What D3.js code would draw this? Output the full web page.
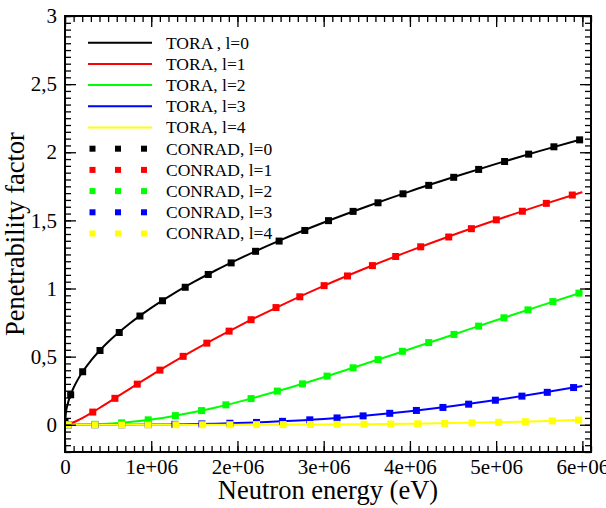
<!DOCTYPE html>
<html>
<head>
  <meta charset="UTF-8">
  <script src="https://cdn.jsdelivr.net/npm/d3@7"></script>
</head>
<body style="margin:0">
<svg id="chart" width="606" height="508"></svg>
<script>
  // TORA curves (energy in eV, penetrability)
  var toraE = [0, 0.01e6, 0.03e6, 0.06e6, 0.1e6, 0.15e6, 0.2e6, 0.3e6, 0.4e6, 0.5e6, 0.75e6, 1e6, 1.25e6,
    1.5e6, 1.75e6, 2e6, 2.5e6, 3e6, 3.5e6, 4e6, 4.5e6, 5e6, 5.5e6, 6e6];
  var tora0 = [0, 0.086, 0.149, 0.211, 0.272, 0.333, 0.385, 0.470, 0.543, 0.607, 0.743, 0.858, 0.959,
    1.050, 1.134, 1.212, 1.355, 1.484, 1.602, 1.713, 1.816, 1.915, 2.008, 2.097];
  var tora1 = [0, 0.001, 0.003, 0.009, 0.018, 0.033, 0.049, 0.085, 0.123, 0.163, 0.263, 0.362, 0.457,
    0.549, 0.636, 0.719, 0.875, 1.019, 1.152, 1.276, 1.393, 1.503, 1.608, 1.707];
  var tora2 = [0, 0, 0, 0, 0, 0.001, 0.001, 0.002, 0.005, 0.008, 0.020, 0.039, 0.063,
    0.093, 0.127, 0.166, 0.253, 0.349, 0.451, 0.556, 0.661, 0.767, 0.871, 0.973];
  var tora3 = [0, 0, 0, 0, 0, 0, 0, 0, 0, 0, 0, 0.001, 0.003,
    0.005, 0.008, 0.012, 0.025, 0.043, 0.068, 0.099, 0.137, 0.181, 0.231, 0.285];
  var tora4 = [0, 0, 0, 0, 0, 0, 0, 0, 0, 0, 0, 0, 0,
    0, 0, 0, 0.001, 0.002, 0.004, 0.007, 0.012, 0.018, 0.026, 0.036];

  // CONRAD points [energy eV, penetrability]
  var conrad0 = [[0, 0.02], [0.066e6, 0.220], [0.205e6, 0.389], [0.406e6, 0.545], [0.629e6, 0.677],
    [0.869e6, 0.798], [1.131e6, 0.910], [1.394e6, 1.009], [1.661e6, 1.103], [1.927e6, 1.188],
    [2.210e6, 1.273], [2.483e6, 1.348], [2.781e6, 1.426], [3.056e6, 1.498], [3.341e6, 1.566],
    [3.630e6, 1.629], [3.920e6, 1.695], [4.218e6, 1.757], [4.508e6, 1.816], [4.797e6, 1.874],
    [5.098e6, 1.932], [5.377e6, 1.986], [5.670e6, 2.040], [5.968e6, 2.091]];
  var conrad1 = [[0.038e6, 0.001], [0.322e6, 0.093], [0.579e6, 0.194], [0.838e6, 0.298], [1.101e6, 0.401],
    [1.370e6, 0.502], [1.645e6, 0.599], [1.903e6, 0.687], [2.158e6, 0.771], [2.447e6, 0.860],
    [2.723e6, 0.939], [3.005e6, 1.021], [3.276e6, 1.092], [3.565e6, 1.168], [3.835e6, 1.235],
    [4.125e6, 1.306], [4.450e6, 1.378], [4.713e6, 1.439], [5.002e6, 1.504], [5.304e6, 1.567],
    [5.582e6, 1.625], [5.883e6, 1.686]];
  var conrad2 = [[0.038e6, 0], [0.348e6, 0.003], [0.657e6, 0.014], [0.965e6, 0.036], [1.280e6, 0.067],
    [1.584e6, 0.104], [1.866e6, 0.146], [2.158e6, 0.192], [2.462e6, 0.247], [2.754e6, 0.300],
    [3.039e6, 0.357], [3.341e6, 0.418], [3.630e6, 0.478], [3.913e6, 0.539], [4.218e6, 0.603],
    [4.511e6, 0.663], [4.797e6, 0.724], [5.090e6, 0.785], [5.369e6, 0.843], [5.658e6, 0.904],
    [5.960e6, 0.966]];
  var conrad3 = [[0.038e6, 0], [0.348e6, 0], [0.657e6, 0], [0.965e6, 0.001], [1.275e6, 0.003],
    [1.588e6, 0.006], [1.912e6, 0.011], [2.221e6, 0.017], [2.523e6, 0.025], [2.839e6, 0.036],
    [3.155e6, 0.050], [3.457e6, 0.065], [3.766e6, 0.084], [4.075e6, 0.105], [4.383e6, 0.127],
    [4.681e6, 0.151], [4.991e6, 0.180], [5.299e6, 0.210], [5.593e6, 0.238], [5.898e6, 0.273]];
  var conrad4 = [[0.038e6, 0], [0.348e6, 0], [0.657e6, 0], [0.965e6, 0], [1.286e6, 0],
    [1.596e6, 0], [1.912e6, 0], [2.221e6, 0.001], [2.530e6, 0.001], [2.847e6, 0.002],
    [3.155e6, 0.003], [3.468e6, 0.004], [3.778e6, 0.005], [4.090e6, 0.007], [4.403e6, 0.010],
    [4.720e6, 0.014], [5.029e6, 0.018], [5.338e6, 0.022], [5.651e6, 0.028], [5.956e6, 0.034]];

  var colors = ["#000000", "#ff0000", "#00ff00", "#0000ff", "#ffff00"];
  var toraLabels = ["TORA , l=0", "TORA, l=1", "TORA, l=2", "TORA, l=3", "TORA, l=4"];
  var conradLabels = ["CONRAD, l=0", "CONRAD, l=1", "CONRAD, l=2", "CONRAD, l=3", "CONRAD, l=4"];
  var xTicks = [0, 1e6, 2e6, 3e6, 4e6, 5e6, 6e6];
  var yTicks = [0, 0.5, 1, 1.5, 2, 2.5, 3];

  var toraSeries = [tora0, tora1, tora2, tora3, tora4];
  var conradSeries = [conrad0, conrad1, conrad2, conrad3, conrad4];

  var font = "Liberation Serif";

  var margin = { top: 16, right: 15, bottom: 56, left: 65 };
  var width = 606 - margin.left - margin.right;
  var height = 508 - margin.top - margin.bottom;

  var svg = d3.select("#chart");
  var g = svg.append("g").attr("transform", "translate(" + margin.left + "," + margin.top + ")");

  var x = d3.scaleLinear().domain([0, 6.1e6]).range([0, width]);
  var y = d3.scaleLinear().domain([-0.2, 3]).range([height, 0]);

  g.append("clipPath").attr("id", "clip").append("rect")
    .attr("width", width).attr("height", height);

  var plot = g.append("g").attr("clip-path", "url(#clip)");

  var line = d3.line()
    .x(function(d) { return x(d[0]); })
    .y(function(d) { return y(d[1]); })
    .curve(d3.curveMonotoneX);

  // TORA lines
  toraSeries.forEach(function(vals, i) {
    var pts = toraE.map(function(e, j) { return [e, vals[j]]; });
    plot.append("path")
      .datum(pts)
      .attr("d", line)
      .attr("fill", "none")
      .attr("stroke", colors[i])
      .attr("stroke-width", 2);
  });

  // CONRAD squares
  var ms = 7;
  conradSeries.forEach(function(pts, i) {
    plot.append("g").selectAll("rect")
      .data(pts)
      .enter().append("rect")
      .attr("x", function(d) { return x(d[0]) - ms / 2; })
      .attr("y", function(d) { return y(d[1]) - ms / 2; })
      .attr("width", ms)
      .attr("height", ms)
      .attr("fill", colors[i]);
  });

  // axes, ticks pointing inward on all four sides
  var xMinor = d3.range(0, 6.1e6 + 1, 1e5);
  var yMinor = d3.range(-0.2, 3.001, 0.05);
  var fmtX = function(d) { return d === 0 ? "0" : (d / 1e6) + "e+06"; };
  var fmtY = function(d) { return String(d).replace(".", ","); };

  function axisPair(axisFn, scale, minor, major, fmt, transform) {
    g.append("g").attr("class", "axis").attr("transform", transform)
      .call(axisFn(scale).tickValues(minor).tickSize(-6).tickFormat(""));
    var a = g.append("g").attr("class", "axis").attr("transform", transform)
      .call(axisFn(scale).tickValues(major).tickSize(-11).tickPadding(fmt ? 8 : 0).tickFormat(fmt || ""));
    return a;
  }

  var bottomAx = axisPair(d3.axisBottom, x, xMinor, xTicks, fmtX, "translate(0," + height + ")");
  axisPair(d3.axisTop, x, xMinor, xTicks, null, "translate(0,0)");
  var leftAx = axisPair(d3.axisLeft, y, yMinor, yTicks, fmtY, "translate(0,0)");
  axisPair(d3.axisRight, y, yMinor, yTicks, null, "translate(" + width + ",0)");

  g.selectAll(".axis path").remove();
  g.selectAll(".axis").attr("font-family", font).attr("font-size", 21);
  g.selectAll(".axis line").attr("stroke", "#000").attr("stroke-width", 1.3);
  g.selectAll(".axis text").attr("fill", "#000").style("font-family", font).style("font-size", "21px");
  bottomAx.selectAll("text").attr("dy", "0.69em");

  // frame
  g.append("rect")
    .attr("width", width).attr("height", height)
    .attr("fill", "none").attr("stroke", "#000").attr("stroke-width", 2);

  // axis titles
  svg.append("text")
    .attr("x", margin.left + width / 2)
    .attr("y", 498.5)
    .attr("text-anchor", "middle")
    .style("font-family", font)
    .style("font-size", "26.5px")
    .text("Neutron energy (eV)");

  svg.append("text")
    .attr("transform", "translate(24," + (margin.top + height / 2) + ") rotate(-90)")
    .attr("text-anchor", "middle")
    .style("font-family", font)
    .style("font-size", "26.5px")
    .text("Penetrability factor");

  // legend
  var legend = svg.append("g").attr("transform", "translate(88,42.7)");
  var rowH = 21.2;
  toraLabels.forEach(function(lab, i) {
    var row = legend.append("g").attr("transform", "translate(0," + (i * rowH) + ")");
    row.append("line").attr("x1", 0).attr("x2", 64).attr("y1", 0).attr("y2", 0)
      .attr("stroke", colors[i]).attr("stroke-width", 2);
    row.append("text").attr("x", 78).attr("y", 5.8)
      .style("font-family", font).style("font-size", "17.5px").text(lab);
  });
  conradLabels.forEach(function(lab, i) {
    var row = legend.append("g").attr("transform", "translate(0," + ((i + 5) * rowH) + ")");
    row.selectAll("rect").data([4.5, 30, 56]).enter().append("rect")
      .attr("x", function(d) { return d - 3; }).attr("y", -3)
      .attr("width", 6).attr("height", 6)
      .attr("fill", colors[i]);
    row.append("text").attr("x", 78).attr("y", 5.8)
      .style("font-family", font).style("font-size", "17.5px").text(lab);
  });
</script>
</body>
</html>
